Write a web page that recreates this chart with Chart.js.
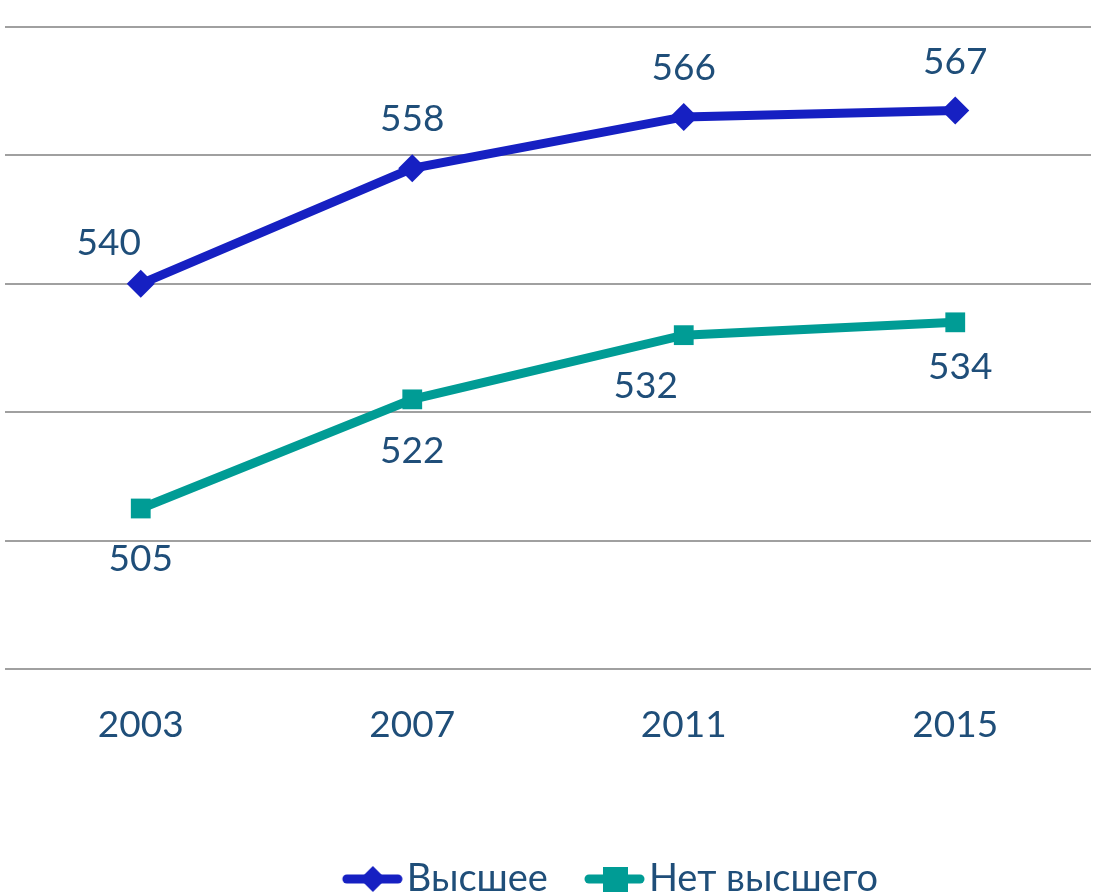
<!DOCTYPE html>
<html lang="ru">
<head>
  <meta charset="utf-8">
  <title>Высшее / Нет высшего</title>
  <script src="https://cdn.jsdelivr.net/npm/chart.js"></script>
  <style>
    html, body { margin: 0; padding: 0; background: #ffffff; }
    #wrap { width: 1101px; height: 892px; }
  </style>
</head>
<body>
  <div id="wrap"><canvas id="chart" width="1101" height="892"></canvas></div>

  <script>
    // data
    const years = ['2003', '2007', '2011', '2015'];
    const higherEdu = [540, 558, 566, 567];
    const noHigherEdu = [505, 522, 532, 534];
    const seriesNames = ['Высшее', 'Нет высшего'];

    const textColor = '#1F4E79';
    const blue = '#1620C2';
    const teal = '#009C95';
    const fontFamily = 'Lato, "Noto Sans", sans-serif';

    // legend swatch: thick line with the marker, drawn in the right part of a wider image
    function legendSwatch(color, style) {
      const c = document.createElement('canvas');
      c.width = 90; c.height = 32;
      const g = c.getContext('2d');
      g.strokeStyle = color;
      g.lineWidth = 9;
      g.lineCap = 'round';
      g.beginPath(); g.moveTo(34, 16); g.lineTo(85, 16); g.stroke();
      g.fillStyle = color;
      if (style === 'rectRot') {
        g.beginPath();
        g.moveTo(60, 3); g.lineTo(73, 16); g.lineTo(60, 29); g.lineTo(47, 16);
        g.closePath(); g.fill();
      } else {
        g.fillRect(48, 4, 25, 25);
      }
      return c;
    }

    // simple value labels drawn next to the points
    const valueLabels = {
      id: 'valueLabels',
      afterDatasetsDraw(chart, args, opts) {
        const ctx = chart.ctx;
        ctx.save();
        ctx.font = opts.font;
        ctx.fillStyle = opts.color;
        ctx.textAlign = 'center';
        ctx.textBaseline = 'middle';
        chart.data.datasets.forEach((ds, i) => {
          const meta = chart.getDatasetMeta(i);
          meta.data.forEach((pt, j) => {
            const n = opts.nudge[i][j];
            ctx.fillText(String(ds.data[j]), pt.x + n[0], pt.y + n[1]);
          });
        });
        ctx.restore();
      }
    };

    // the legend in the original sits a bit right of centre
    const legendShift = {
      id: 'legendShift',
      afterLayout(chart, args, opts) {
        if (chart.legend) {
          chart.legend.left += opts.dx;
          chart.legend.right += opts.dx;
        }
      }
    };

    new Chart(document.getElementById('chart'), {
      type: 'line',
      data: {
        labels: years,
        datasets: [
          {
            label: seriesNames[0],
            data: higherEdu,
            borderColor: blue,
            backgroundColor: blue,
            borderWidth: 9,
            pointStyle: 'rectRot',
            pointRadius: 14,
            pointHoverRadius: 14,
            pointBorderWidth: 0
          },
          {
            label: seriesNames[1],
            data: noHigherEdu,
            borderColor: teal,
            backgroundColor: teal,
            borderWidth: 9,
            pointStyle: 'rect',
            pointRadius: 14,
            pointHoverRadius: 14,
            pointBorderWidth: 0
          }
        ]
      },
      options: {
        responsive: false,
        animation: false,
        layout: { autoPadding: false, padding: { left: 5, right: 10, top: 27, bottom: -16 } },
        scales: {
          x: {
            offset: true,
            grid: { display: false },
            border: { display: false },
            ticks: { color: textColor, font: { family: fontFamily, size: 37 }, padding: 26 },
            afterFit(scale) { scale.height = 169; }
          },
          y: {
            min: 480,
            max: 580,
            ticks: { display: false, stepSize: 20 },
            border: { display: false },
            grid: { color: '#A0A0A0', lineWidth: 2, drawTicks: false },
            afterFit(scale) { scale.width = 0; }
          }
        },
        plugins: {
          legend: {
            position: 'bottom',
            labels: {
              color: textColor,
              font: { family: fontFamily, size: 38, lineHeight: 1 },
              usePointStyle: true,
              pointStyleWidth: 60,
              padding: 22,
              generateLabels(chart) {
                return chart.data.datasets.map((ds, i) => ({
                  text: ds.label,
                  fontColor: textColor,
                  pointStyle: legendSwatch(ds.borderColor, ds.pointStyle),
                  lineWidth: 0,
                  strokeStyle: 'transparent',
                  fillStyle: ds.borderColor,
                  datasetIndex: i
                }));
              }
            }
          },
          legendShift: { dx: 55 },
          tooltip: { enabled: false },
          valueLabels: {
            font: '37px ' + fontFamily,
            color: textColor,
            nudge: [
              [[-32, -41], [0, -49], [0, -49], [0, -48]],
              [[0, 51], [0, 52], [-38, 51], [5, 45]]
            ]
          }
        }
      },
      plugins: [valueLabels, legendShift]
    });
  </script>
</body>
</html>
